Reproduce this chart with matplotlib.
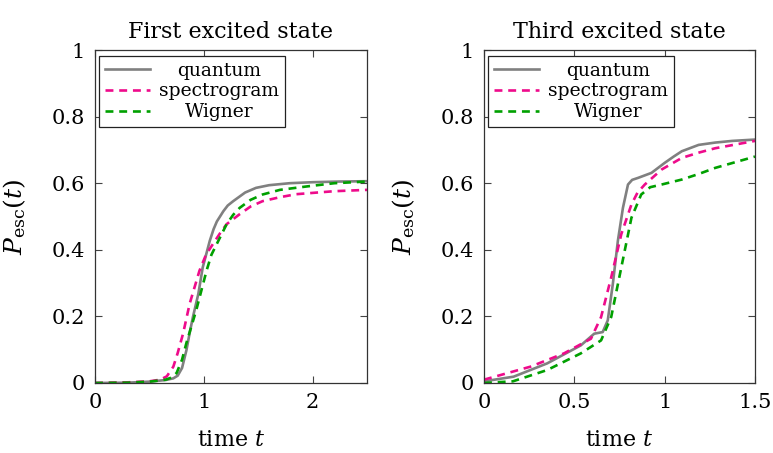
import matplotlib
matplotlib.use("Agg")
import matplotlib.pyplot as plt

# ---- data ----
# first excited state
t1_q = [0, 0.3, 0.5, 0.65, 0.72, 0.76, 0.8, 0.84, 0.87, 0.90, 0.95, 0.99, 1.025, 1.055, 1.09, 1.12, 1.18, 1.22, 1.27, 1.38, 1.48, 1.6, 1.79, 2.0, 2.25, 2.5]
p1_q = [0, 0.001, 0.004, 0.009, 0.014, 0.022, 0.045, 0.098, 0.15, 0.198, 0.268, 0.347, 0.39, 0.427, 0.462, 0.485, 0.516, 0.533, 0.546, 0.572, 0.586, 0.594, 0.6, 0.603, 0.605, 0.606]
t1_s = [0, 0.3, 0.5, 0.6, 0.66, 0.72, 0.76, 0.81, 0.87, 0.96, 1.02, 1.085, 1.15, 1.21, 1.33, 1.43, 1.54, 1.7, 1.85, 2.2, 2.5]
p1_s = [0, 0.002, 0.005, 0.01, 0.02, 0.049, 0.09, 0.149, 0.238, 0.337, 0.385, 0.418, 0.45, 0.477, 0.507, 0.53, 0.546, 0.558, 0.567, 0.576, 0.58]
t1_w = [0, 0.3, 0.5, 0.65, 0.7, 0.75, 0.8, 0.84, 0.93, 1.025, 1.07, 1.12, 1.21, 1.27, 1.33, 1.43, 1.54, 1.7, 1.94, 2.2, 2.5]
p1_w = [0, 0.001, 0.004, 0.01, 0.016, 0.03, 0.07, 0.12, 0.218, 0.337, 0.385, 0.418, 0.477, 0.505, 0.526, 0.55, 0.566, 0.58, 0.59, 0.6, 0.605]

# third excited state
t3_q = [0, 0.164, 0.35, 0.536, 0.61, 0.657, 0.685, 0.713, 0.741, 0.769, 0.797, 0.82, 0.853, 0.927, 1.0, 1.05, 1.095, 1.188, 1.28, 1.374, 1.5]
p3_q = [0.005, 0.019, 0.059, 0.113, 0.148, 0.153, 0.188, 0.297, 0.427, 0.526, 0.596, 0.61, 0.616, 0.631, 0.661, 0.68, 0.696, 0.715, 0.722, 0.727, 0.731]
t3_s = [0, 0.257, 0.443, 0.592, 0.648, 0.704, 0.76, 0.816, 0.85, 0.89, 0.983, 1.095, 1.19, 1.28, 1.5]
p3_s = [0.01, 0.049, 0.089, 0.133, 0.198, 0.317, 0.447, 0.536, 0.572, 0.596, 0.641, 0.676, 0.692, 0.705, 0.727]
t3_w = [0, 0.16, 0.35, 0.536, 0.648, 0.704, 0.76, 0.816, 0.87, 0.92, 0.983, 1.095, 1.19, 1.28, 1.5]
p3_w = [0, 0.005, 0.039, 0.089, 0.128, 0.198, 0.347, 0.496, 0.566, 0.588, 0.596, 0.611, 0.628, 0.646, 0.68]

titles = ["First excited state", "Third excited state"]
xticks = [[0, 1, 2], [0, 0.5, 1, 1.5]]
xticklabels = [["0", "1", "2"], ["0", "0.5", "1", "1.5"]]
yticks = [0, 0.2, 0.4, 0.6, 0.8, 1]
yticklabels = ["0", "0.2", "0.4", "0.6", "0.8", "1"]
xmax = [2.5, 1.5]

plt.rcParams["font.family"] = ["DejaVu Serif"]
plt.rcParams["mathtext.fontset"] = "dejavuserif"

GRAY = "#808080"
PINK = "#ee0b8b"
GREEN = "#00a000"

fig = plt.figure(figsize=(7.73, 4.53), dpi=100)
W, H = 773, 453
boxes = [(95, 50, 367, 383), (484, 50, 755, 383)]   # pixel boxes left, top, right, bottom

data = [(t1_q, p1_q, t1_s, p1_s, t1_w, p1_w), (t3_q, p3_q, t3_s, p3_s, t3_w, p3_w)]
legends = []

for i in range(2):
    l, t, r, b = boxes[i]
    ax = fig.add_axes([l / W, 1 - b / H, (r - l) / W, (b - t) / H])
    tq, pq, ts, ps, tw, pw = data[i]
    ax.plot(tq, pq, color=GRAY, lw=1.9, label="quantum")
    ax.plot(ts, ps, color=PINK, lw=1.9, dashes=(3, 2.2), label="spectrogram")
    ax.plot(tw, pw, color=GREEN, lw=1.9, dashes=(3, 2.2), label="Wigner")
    ax.set_xlim(0, xmax[i])
    ax.set_ylim(0, 1)
    ax.set_xticks(xticks[i])
    ax.set_xticklabels(xticklabels[i])
    ax.set_yticks(yticks)
    ax.set_yticklabels(yticklabels)
    ax.tick_params(direction="in", top=True, right=True, length=5, width=0.8,
                   colors="#444444", labelcolor="black", labelsize=15, pad=7)
    for s in ax.spines.values():
        s.set_color("#333333")
        s.set_linewidth(0.9)
    ax.set_title(titles[i], fontsize=16, pad=9)
    ax.set_xlabel("time $t$", fontsize=16)
    ax.set_ylabel(r"$P_{\mathrm{esc}}(t)$", fontsize=18)
    ax.xaxis.set_label_coords(0.5, -0.138)
    ax.yaxis.set_label_coords(-0.247, 0.5)
    leg = ax.legend(loc="upper left", bbox_to_anchor=(0.015, 0.982), fontsize=13.5,
                    fancybox=False, edgecolor="#222222", framealpha=1,
                    handlelength=2.4, handletextpad=0.5, borderpad=0.3,
                    labelspacing=0.15, borderaxespad=0)
    leg.get_frame().set_linewidth(0.9)
    legends.append(leg)

# centre the legend labels in their column, as in the original
fig.canvas.draw()
r = fig.canvas.get_renderer()
for leg in legends:
    widths = [txt.get_window_extent(r).width for txt in leg.get_texts()]
    wmax = max(widths)
    for txt, w in zip(leg.get_texts(), widths):
        txt.set_position(((wmax - w) / 2, 0))

fig.savefig("out.png", dpi=100)
